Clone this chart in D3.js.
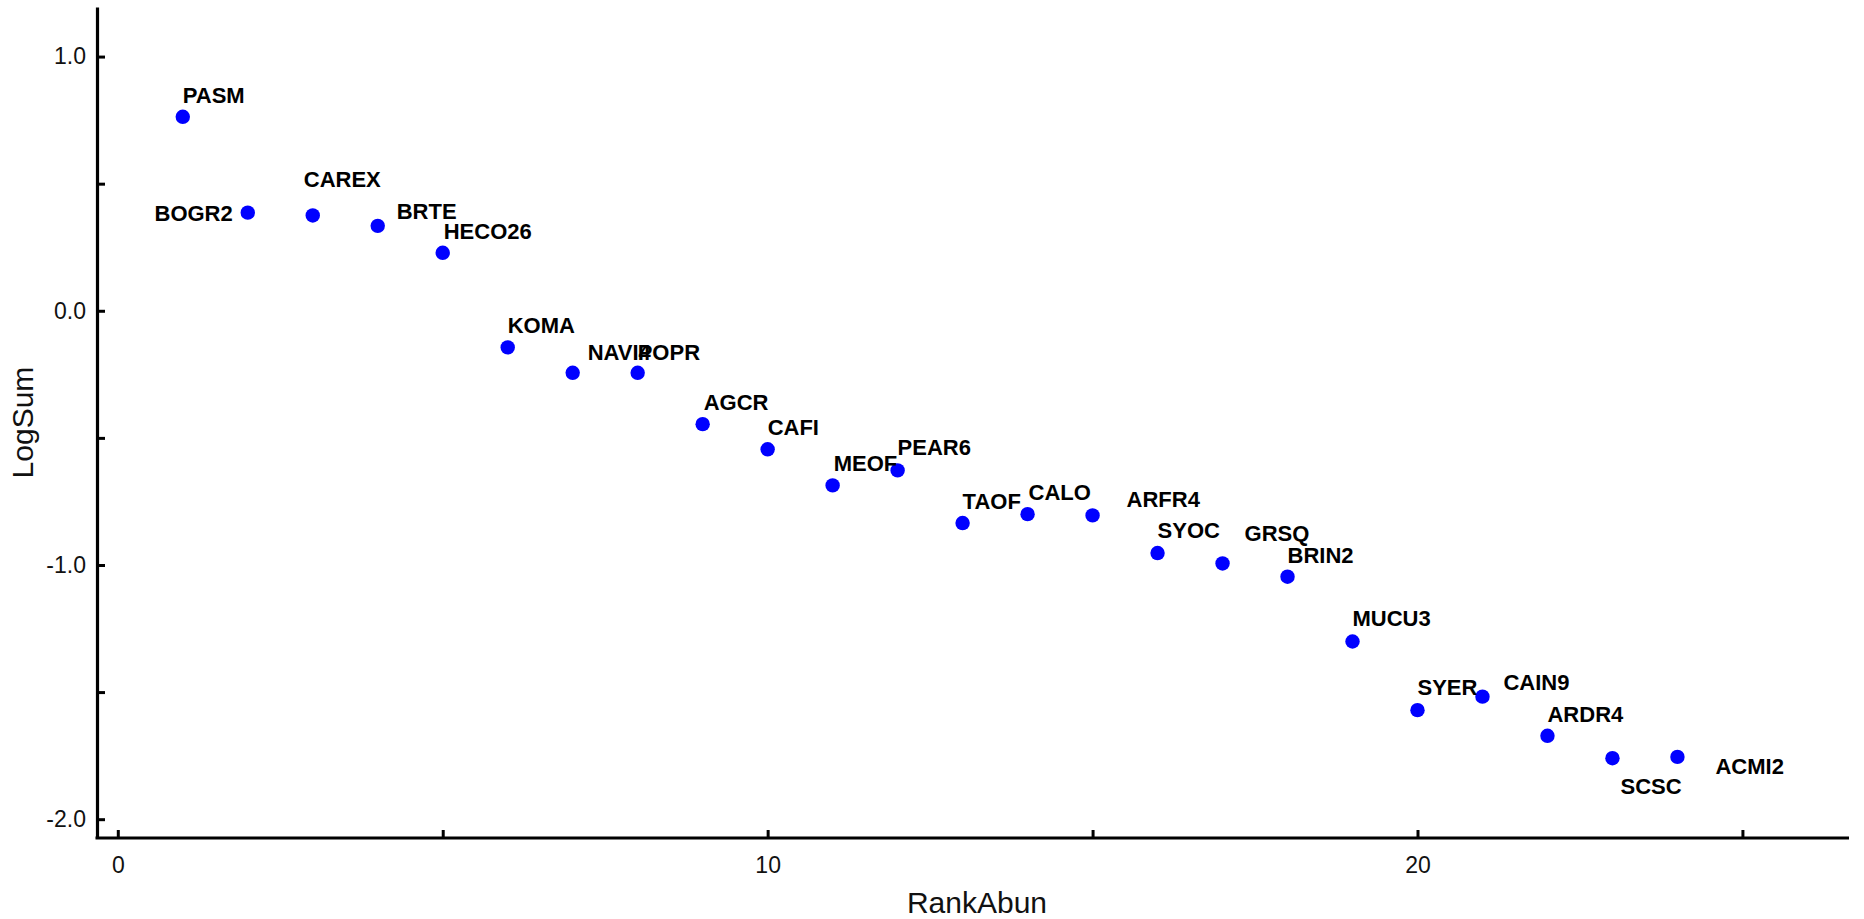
<!DOCTYPE html>
<html>
<head>
<meta charset="utf-8">
<script src="https://cdn.jsdelivr.net/npm/d3@7"></script>
<style>
  html, body { margin: 0; padding: 0; background: #fff; }
  svg { display: block; font-family: "Liberation Sans", Arial, sans-serif; }
</style>
</head>
<body>
<svg id="chart" width="1864" height="919"></svg>
<script>
// ---- data ----
const species = ["PASM","BOGR2","CAREX","BRTE","HECO26","KOMA","NAVI4","POPR","AGCR","CAFI","MEOF","PEAR6",
                 "TAOF","CALO","ARFR4","SYOC","GRSQ","BRIN2","MUCU3","SYER","CAIN9","ARDR4","SCSC","ACMI2"];
const rankAbun = [1,2,3,4,5,6,7,8,9,10,11,12,13,14,15,16,17,18,19,20,21,22,23,24];
const logSum = [0.763,0.386,0.375,0.334,0.228,-0.144,-0.244,-0.244,-0.446,-0.545,-0.687,-0.628,
                -0.835,-0.800,-0.805,-0.953,-0.994,-1.046,-1.301,-1.571,-1.518,-1.672,-1.760,-1.755];
const xTicks = [0,5,10,15,20,25];
const xTickLabels = ["0","","10","","20",""];
const yTicks = [1.0,0.5,0.0,-0.5,-1.0,-1.5,-2.0];
const yTickLabels = ["1.0","","0.0","","-1.0","","-2.0"];

// label placement (pixel offset from point: dx, dy to baseline, anchor)
const labelOffsets = [
  [0,-14,"start"],[-15,8,"end"],[-9,-28,"start"],[19,-7,"start"],[1,-14,"start"],[0,-14,"start"],
  [15,-13,"start"],[0,-13,"start"],[1,-14,"start"],[0,-14,"start"],[1,-14,"start"],[0,-15,"start"],
  [0,-14,"start"],[1,-14,"start"],[34,-8,"start"],[0,-15,"start"],[22,-22,"start"],[0,-14,"start"],
  [0,-15,"start"],[0,-15,"start"],[21,-7,"start"],[0,-14,"start"],[8,36,"start"],[38,17,"start"]
];

// ---- chart ----
const svg = d3.select("#chart");
const x = d3.scaleLinear().domain([-0.32, 26.64]).range([97, 1849]);
const y = d3.scaleLinear().domain([-2.074, 1.195]).range([838, 7]);

const xAxis = d3.axisBottom(x)
  .tickValues(xTicks)
  .tickFormat((d,i) => xTickLabels[i])
  .tickSizeInner(-8).tickSizeOuter(0);
const gx = svg.append("g").attr("transform", "translate(0,838)").call(xAxis);
gx.select(".domain").attr("stroke", "#000").attr("stroke-width", 3.2)
  .attr("d", `M${x.range()[0]-1.5},0H${x.range()[1]}`);
gx.selectAll(".tick line").attr("stroke", "#000").attr("stroke-width", 3);
gx.selectAll(".tick text").attr("y", 35).attr("dy", 0)
  .attr("fill", "#111").style("font-size", "23px");

const yAxis = d3.axisLeft(y)
  .tickValues(yTicks)
  .tickFormat((d,i) => yTickLabels[i])
  .tickSizeInner(-8).tickSizeOuter(0).tickPadding(11);
const gy = svg.append("g").attr("transform", "translate(97,0)").call(yAxis);
gy.select(".domain").attr("stroke", "#000").attr("stroke-width", 3.2);
gy.selectAll(".tick line").attr("stroke", "#000").attr("stroke-width", 3);
gy.selectAll(".tick text").attr("fill", "#111").style("font-size", "23px");

// axis titles
svg.append("text")
  .attr("x", (x.range()[0] + x.range()[1]) / 2 + 4)
  .attr("y", 913)
  .attr("text-anchor", "middle")
  .style("font-size", "30px")
  .attr("fill", "#111")
  .text("RankAbun");

svg.append("text")
  .attr("transform", `translate(33,${(y.range()[0] + y.range()[1]) / 2}) rotate(-90)`)
  .attr("text-anchor", "middle")
  .style("font-size", "30px")
  .attr("fill", "#111")
  .text("LogSum");

// points
const data = species.map((s, i) => ({ name: s, x: rankAbun[i], y: logSum[i], off: labelOffsets[i] }));

svg.append("g").selectAll("circle").data(data).join("circle")
  .attr("cx", d => x(d.x))
  .attr("cy", d => y(d.y))
  .attr("r", 7.2)
  .attr("fill", "#0000ff");

svg.append("g").selectAll("text").data(data).join("text")
  .attr("x", d => x(d.x) + d.off[0])
  .attr("y", d => y(d.y) + d.off[1])
  .attr("text-anchor", d => d.off[2])
  .style("font-size", "22px")
  .style("font-weight", "bold")
  .attr("fill", "#000")
  .text(d => d.name);
</script>
</body>
</html>
